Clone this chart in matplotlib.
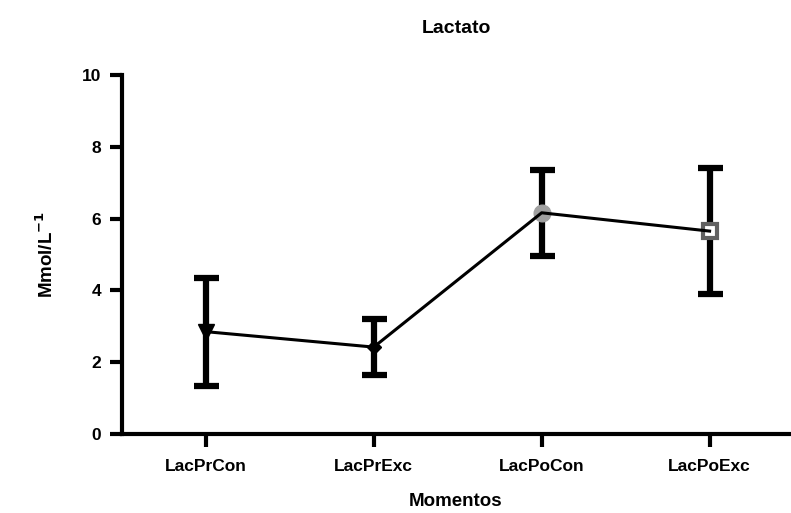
import matplotlib
matplotlib.use("Agg")
import matplotlib.pyplot as plt

categories = ["LacPrCon", "LacPrExc", "LacPoCon", "LacPoExc"]
means = [2.85, 2.42, 6.16, 5.65]
errors = [1.50, 0.78, 1.20, 1.76]
markers = ["v", "D", "o", "s"]
marker_faces = ["black", "black", "#a0a0a0", "white"]
marker_edges = ["black", "black", "#a0a0a0", "#606060"]
marker_sizes = [11, 7, 12, 10]
y_ticks = [0, 2, 4, 6, 8, 10]

plt.rcParams["font.family"] = ["Liberation Sans", "DejaVu Sans"]
plt.rcParams["font.weight"] = "bold"

fig = plt.figure(figsize=(7.91, 5.13), dpi=100)
ax = fig.add_axes([0.154, 0.154, 0.845, 0.700])

x = list(range(len(categories)))
ax.errorbar(x, means, yerr=errors, fmt="none", ecolor="black",
            elinewidth=4.5, capsize=9, capthick=4.5, zorder=2)
ax.plot(x, means, color="black", linewidth=2.2, zorder=4)
for xi, m, mk, fc, ec, ms in zip(x, means, markers, marker_faces,
                                 marker_edges, marker_sizes):
    ax.plot([xi], [m], marker=mk, markersize=ms, markerfacecolor=fc,
            markeredgecolor=ec, markeredgewidth=3 if mk == "s" else 1,
            linestyle="none", zorder=3)

ax.set_xlim(-0.5, 3.48)
ax.set_ylim(0, 10)
ax.set_yticks(y_ticks)
ax.set_xticks(x)
ax.set_xticklabels(categories)

for side in ("top", "right"):
    ax.spines[side].set_visible(False)
for side in ("left", "bottom"):
    ax.spines[side].set_linewidth(3)
ax.spines["left"].set_bounds(0, 10)

ax.tick_params(axis="both", width=3, length=9, labelsize=12.5, pad=6)
ax.tick_params(axis="x", pad=9)

ax.set_title("Lactato", fontsize=14, fontweight="bold", pad=30)
ax.set_xlabel("Momentos", fontsize=13.5, fontweight="bold", labelpad=14)
ax.set_ylabel(r"Mmol/L$^{\mathbf{-1}}$", fontsize=13.5, fontweight="bold",
              labelpad=18)

fig.savefig("out.png", dpi=100)
